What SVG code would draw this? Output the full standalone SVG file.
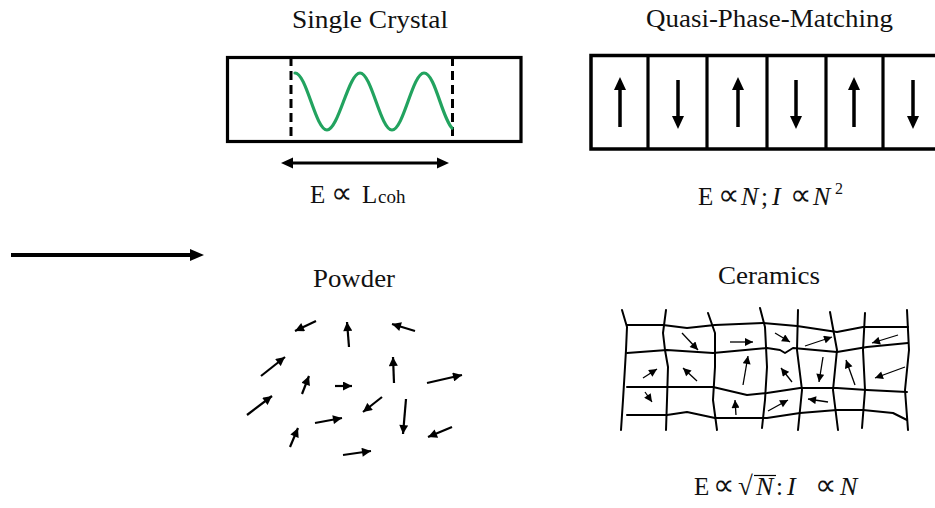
<svg xmlns="http://www.w3.org/2000/svg" width="935" height="508" viewBox="0 0 935 508">
<style>
text{font-family:"Liberation Serif","Times New Roman",serif;fill:#111;}
.t{font-size:26px;}
.eq{font-size:25px;}
.it{font-style:italic;font-size:26px;}
.pr{font-size:30px;}
.box{fill:none;stroke:#000;stroke-width:3.2;}
.div{stroke:#000;stroke-width:3.2;}
.dash{stroke:#000;stroke-width:3;stroke-dasharray:9 5;}
.wave{fill:none;stroke:#22a35f;stroke-width:3.2;stroke-linecap:round;}
.thick{stroke:#000;stroke-width:3.5;}
.pw{stroke:#000;stroke-width:2.2;marker-end:url(#hp);}
.ca{stroke:#000;stroke-width:1.3;marker-end:url(#hc);}
.grid{fill:none;stroke:#000;stroke-width:2;stroke-linejoin:round;stroke-linecap:round;}
.head{fill:#000;}
</style>
<defs>
<marker id="hp" markerUnits="userSpaceOnUse" viewBox="0 0 10 10" refX="10" refY="5" markerWidth="10" markerHeight="9" orient="auto"><path d="M0,0 L10,5 L0,10 z" fill="#000"/></marker>
<marker id="hc" markerUnits="userSpaceOnUse" viewBox="0 0 10 10" refX="10" refY="5" markerWidth="9" markerHeight="8" orient="auto"><path d="M0,0 L10,5 L0,10 z" fill="#000"/></marker>
</defs>
<rect width="935" height="508" fill="#fff"/>

<g id="node-single-crystal">
<text class="t" x="292" y="28" textLength="156" lengthAdjust="spacingAndGlyphs">Single Crystal</text>
<rect class="box" x="227.5" y="57.5" width="293.5" height="84"/>
<line class="dash" x1="291" y1="57" x2="291" y2="142"/>
<line class="dash" x1="452.5" y1="57" x2="452.5" y2="142"/>
<path class="wave" d="M295,73 C306.5,73 315.5,130 327,130 C338.5,130 348.5,73 360,73 C371.5,73 380.5,130 392,130 C403.5,130 412.5,73 424,73 C435,73 442,118 452,128"/>
<line class="thick" x1="291" y1="163" x2="439" y2="163" style="stroke-width:3"/>
<polygon class="head" points="281,163 293,157.5 293,168.5"/>
<polygon class="head" points="449,163 437,157.5 437,168.5"/>
<text class="eq" y="203"><tspan x="310">E</tspan><tspan x="331" class="pr">∝</tspan><tspan x="362">L</tspan><tspan x="378" style="font-size:19px">coh</tspan></text>
</g>

<g id="node-qpm">
<text class="t" x="646" y="27" textLength="247" lengthAdjust="spacingAndGlyphs">Quasi-Phase-Matching</text>
<rect class="box" x="591" y="55.5" width="360" height="93.5" style="stroke-width:3.5"/>
<line class="div" x1="648" y1="55" x2="648" y2="149"/>
<line class="div" x1="707" y1="55" x2="707" y2="149"/>
<line class="div" x1="767" y1="55" x2="767" y2="149"/>
<line class="div" x1="826" y1="55" x2="826" y2="149"/>
<line class="div" x1="883" y1="55" x2="883" y2="149"/>
<line class="thick" x1="620" y1="127" x2="620" y2="88"/><polygon class="head" points="620,77 614,90 626,90"/>
<line class="thick" x1="678" y1="80" x2="678" y2="118"/><polygon class="head" points="678,129 672,116 684,116"/>
<line class="thick" x1="738" y1="127" x2="738" y2="88"/><polygon class="head" points="738,77 732,90 744,90"/>
<line class="thick" x1="796" y1="80" x2="796" y2="118"/><polygon class="head" points="796,129 790,116 802,116"/>
<line class="thick" x1="854" y1="127" x2="854" y2="88"/><polygon class="head" points="854,77 848,90 860,90"/>
<line class="thick" x1="913" y1="80" x2="913" y2="118"/><polygon class="head" points="913,129 907,116 919,116"/>
<text class="eq" y="205"><tspan x="698">E</tspan><tspan x="718" class="pr">∝</tspan><tspan x="741" class="it">N</tspan><tspan x="761">;</tspan><tspan x="772" class="it">I</tspan><tspan x="790" class="pr">∝</tspan><tspan x="813" class="it">N</tspan><tspan x="835" y="194" style="font-size:16px">2</tspan></text>
</g>

<g id="node-powder">
<text class="t" x="313" y="287" textLength="82" lengthAdjust="spacingAndGlyphs">Powder</text>
<line class="pw" x1="316" y1="321" x2="295" y2="331"/>
<line class="pw" x1="349" y1="347" x2="347" y2="322"/>
<line class="pw" x1="415" y1="331" x2="392" y2="324"/>
<line class="pw" x1="261" y1="376" x2="285" y2="357"/>
<line class="pw" x1="302" y1="394" x2="309" y2="376"/>
<line class="pw" x1="335" y1="386" x2="352" y2="386"/>
<line class="pw" x1="394" y1="383" x2="393" y2="357"/>
<line class="pw" x1="427" y1="383" x2="462" y2="375"/>
<line class="pw" x1="247" y1="415" x2="272" y2="396"/>
<line class="pw" x1="382" y1="397" x2="363" y2="412"/>
<line class="pw" x1="406" y1="399" x2="403" y2="434"/>
<line class="pw" x1="315" y1="423" x2="342" y2="418"/>
<line class="pw" x1="290" y1="447" x2="298" y2="428"/>
<line class="pw" x1="452" y1="427" x2="428" y2="437"/>
<line class="pw" x1="343" y1="455" x2="371" y2="451"/>
</g>

<g id="node-ceramics">
<text class="t" x="718" y="284" textLength="102" lengthAdjust="spacingAndGlyphs">Ceramics</text>
<polyline class="grid" points="622,310 627,327 626,350 625,367 623,400 621,430"/>
<polyline class="grid" points="666,310 663,333 665,350 668,367 667,400 666,430"/>
<polyline class="grid" points="708,313 715,333 715,367 713,400 717,430"/>
<polyline class="grid" points="760,308 765,327 767,367 765,400 762,428"/>
<polyline class="grid" points="798,310 797,350 802,390 798,430"/>
<polyline class="grid" points="830,312 837,350 833,390 838,430"/>
<polyline class="grid" points="865,313 863,350 865,390 862,428"/>
<polyline class="grid" points="907,310 909,350 905,390 908,430"/>
<polyline class="grid" points="627,325 663,325 687,328 715,325 763,323 797,326 837,332 863,327 908,327"/>
<polyline class="grid" points="627,353 667,350 713,353 767,348 780,350 785,353 793,348 837,352 867,347 908,343"/>
<polyline class="grid" points="627,387 667,387 713,387 747,395 767,393 800,388 837,388 867,390 907,392"/>
<polyline class="grid" points="627,415 667,415 687,412 715,418 767,418 800,413 837,410 863,410 893,413 907,420"/>
<line class="ca" x1="682" y1="333" x2="698" y2="350"/>
<line class="ca" x1="730" y1="342" x2="753" y2="342"/>
<line class="ca" x1="643" y1="378" x2="657" y2="369"/>
<line class="ca" x1="697" y1="381" x2="683" y2="368"/>
<line class="ca" x1="743" y1="385" x2="748" y2="356"/>
<line class="ca" x1="645" y1="392" x2="652" y2="402"/>
<line class="ca" x1="736" y1="415" x2="735" y2="400"/>
<line class="ca" x1="775" y1="333" x2="790" y2="342"/>
<line class="ca" x1="805" y1="346" x2="832" y2="337"/>
<line class="ca" x1="898" y1="335" x2="872" y2="343"/>
<line class="ca" x1="792" y1="382" x2="781" y2="368"/>
<line class="ca" x1="823" y1="357" x2="819" y2="382"/>
<line class="ca" x1="855" y1="385" x2="846" y2="360"/>
<line class="ca" x1="905" y1="367" x2="875" y2="378"/>
<line class="ca" x1="768" y1="411" x2="788" y2="400"/>
<line class="ca" x1="828" y1="402" x2="808" y2="399"/>
<text class="eq" y="495"><tspan x="694">E</tspan><tspan x="713" class="pr">∝</tspan><tspan x="738" style="font-size:27px">√</tspan><tspan x="756" class="it">N</tspan><tspan x="776">:</tspan><tspan x="787" class="it">I</tspan><tspan x="815" class="pr">∝</tspan><tspan x="840" class="it">N</tspan></text>
<line x1="754" y1="475.5" x2="776" y2="475.5" stroke="#000" stroke-width="1.2"/>
</g>

<g id="connectors">
<line class="thick" x1="11" y1="255" x2="192" y2="255" style="stroke-width:4"/>
<polygon class="head" points="204,255 190,249 190,261"/>
</g>
</svg>
